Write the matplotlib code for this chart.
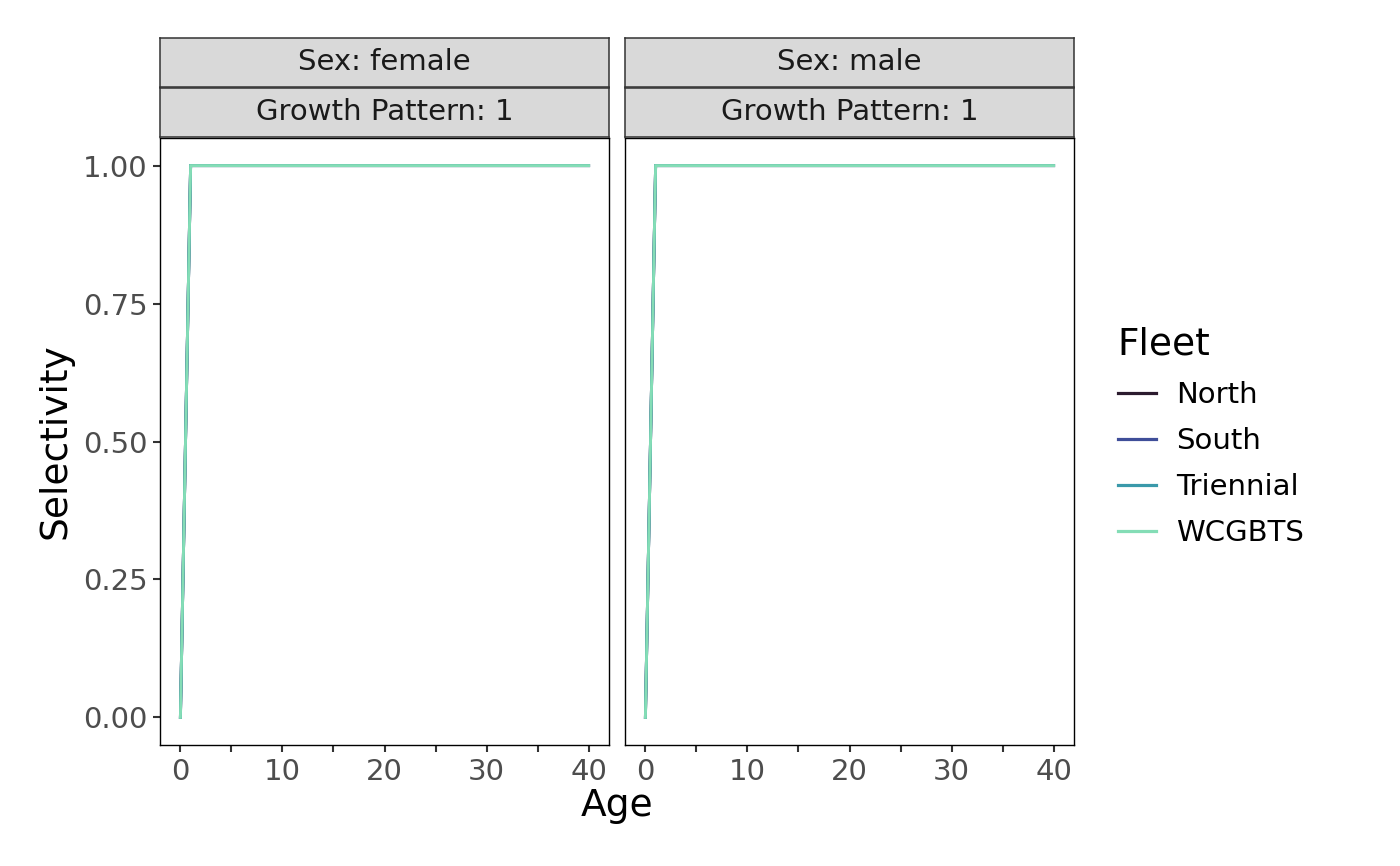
import matplotlib
matplotlib.use("Agg")
import matplotlib.pyplot as plt
from matplotlib.lines import Line2D
from matplotlib.ticker import MultipleLocator

# data
fleets = ["North", "South", "Triennial", "WCGBTS"]
fleet_colors = ["#2B1B2E", "#3F4E99", "#3A99AA", "#84DDB6"]
sexes = ["female", "male"]
growth_pattern = 1
ages = list(range(41))
selectivity = [0.0, 1.0, 1.0, 1.0, 1.0, 1.0, 1.0, 1.0, 1.0, 1.0,
               1.0, 1.0, 1.0, 1.0, 1.0, 1.0, 1.0, 1.0, 1.0, 1.0,
               1.0, 1.0, 1.0, 1.0, 1.0, 1.0, 1.0, 1.0, 1.0, 1.0,
               1.0, 1.0, 1.0, 1.0, 1.0, 1.0, 1.0, 1.0, 1.0, 1.0, 1.0]
y_ticks = [0.0, 0.25, 0.5, 0.75, 1.0]
y_tick_labels = ["0.00", "0.25", "0.50", "0.75", "1.00"]
x_ticks = [0, 10, 20, 30, 40]

W, H = 1400, 866
fig = plt.figure(figsize=(W / 100, H / 100), dpi=100)


def fx(px):
    return px / W


def fy(px):
    return 1 - px / H


panel_left = [160, 625]
panel_w = 449
panel_top, panel_bot = 138, 745
strip_rows = [(38, 87), (88, 137)]

for i, sex in enumerate(sexes):
    x0 = panel_left[i]
    ax = fig.add_axes([fx(x0), fy(panel_bot), panel_w / W, (panel_bot - panel_top) / H])
    for fleet, col in zip(fleets, fleet_colors):
        ax.plot(ages, selectivity, color=col, lw=2.1, solid_joinstyle="miter")
    ax.set_xlim(-2, 42)
    ax.set_ylim(-0.05, 1.05)
    ax.set_xticks(x_ticks)
    ax.xaxis.set_minor_locator(MultipleLocator(5))
    ax.set_yticks(y_ticks)
    ax.tick_params(which="both", length=5, width=1.5, color="#333333",
                   labelsize=21, labelcolor="#4D4D4D", pad=4)
    ax.tick_params(axis="x", which="minor", length=5, width=1.5)
    if i == 0:
        ax.set_yticklabels(y_tick_labels)
    else:
        ax.set_yticklabels([])
        ax.tick_params(axis="y", length=0)
    for s in ax.spines.values():
        s.set_linewidth(1.0)
        s.set_color("black")

    # facet strips
    labels = ["Sex: " + sex, "Growth Pattern: " + str(growth_pattern)]
    for (t, b), lab in zip(strip_rows, labels):
        sax = fig.add_axes([fx(x0), fy(b), panel_w / W, (b - t) / H])
        sax.set_facecolor("#D9D9D9")
        sax.set_xticks([])
        sax.set_yticks([])
        for s in sax.spines.values():
            s.set_color("#333333")
            s.set_linewidth(1.1)
        sax.text(0.5, 0.5, lab, ha="center", va="center", fontsize=21,
                 color="#1A1A1A", transform=sax.transAxes)

fig.text(fx(617), fy(806), "Age", ha="center", va="center", fontsize=27)
fig.text(fx(55), fy(441), "Selectivity", ha="center", va="center",
         rotation=90, fontsize=27)

handles = [Line2D([0], [0], color=c, lw=2.3) for c in fleet_colors]
leg = fig.legend(handles, fleets, loc="upper left",
                 bbox_to_anchor=(fx(1107), fy(316)), frameon=False,
                 borderpad=0.37, borderaxespad=0,
                 title="Fleet", title_fontsize=27, fontsize=21,
                 handlelength=1.3, handletextpad=0.7, labelspacing=0.62)
leg._legend_box.align = "left"

fig.savefig("out.png", dpi=100)
